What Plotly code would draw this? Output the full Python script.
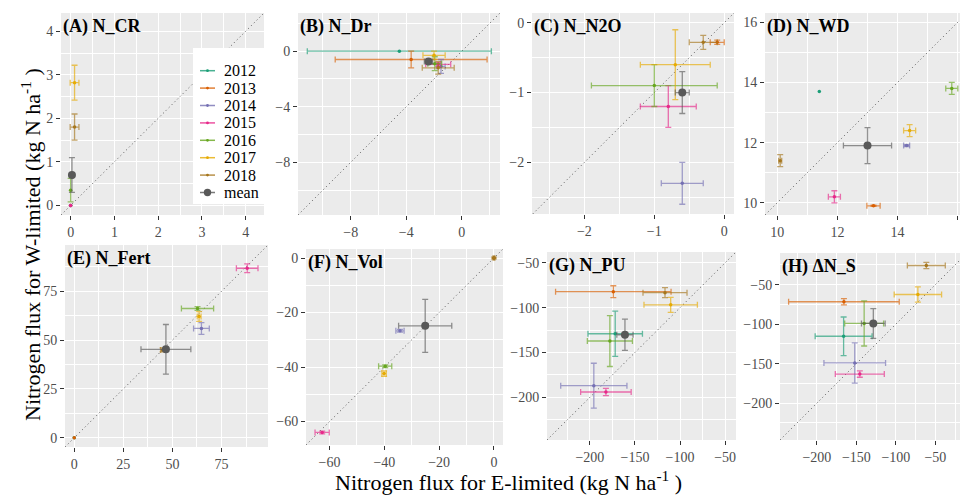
import plotly.graph_objects as go

# ---------------- data ----------------
years = ["2012", "2013", "2014", "2015", "2016", "2017", "2018", "mean"]
colors = ["#1B9E77", "#D95F02", "#7570B3", "#E7298A", "#66A61E", "#E6AB02", "#A6761D", "#595959"]

titles = ["(A) N_CR", "(B) N_Dr", "(C) N_N2O", "(D) N_WD",
          "(E) N_Fert", "(F) N_Vol", "(G) N_PU", "(H) ΔN_S"]

# order of every list: 2012, 2013, 2014, 2015, 2016, 2017, 2018, mean
cr_x = [0, 0, 0, 0, 0, 0.09, 0.09, 0.03]
cr_y = [0, 0, 0, 0, 0.35, 2.82, 1.8, 0.7]
cr_xerr = [0, 0, 0, 0, 0, 0.1, 0.1, 0.03]
cr_yerr = [0, 0, 0, 0, 0.27, 0.4, 0.3, 0.4]

dr_x = [-4.5, -3.65, -1.5, -1.7, -1.95, -2.0, -1.7, -2.4]
dr_y = [0.0, -0.6, -1.1, -0.95, -0.9, -0.3, -1.2, -0.75]
dr_xerr = [6.63, 5.47, 0.3, 0.9, 0.5, 0.8, 1.15, 0.3]
dr_yerr = [0, 0.6, 0.5, 0.15, 0.5, 0.3, 0.45, 0.15]

n2o_x = [None, -0.1, -0.6, -0.8, -1.0, -0.7, -0.3, -0.6]
n2o_y = [None, -0.28, -2.3, -1.2, -0.9, -0.6, -0.28, -1.0]
n2o_xerr = [0, 0.1, 0.3, 0.4, 0.9, 0.5, 0.2, 0.1]
n2o_yerr = [0, 0.03, 0.3, 0.3, 0.3, 0.5, 0.1, 0.3]

wd_x = [11.4, 13.2, 14.3, 11.9, 15.8, 14.4, 10.1, 13.0]
wd_y = [13.7, 9.9, 11.9, 10.2, 13.8, 12.4, 11.4, 11.9]
wd_xerr = [0, 0.22, 0.1, 0.2, 0.2, 0.2, 0.05, 0.8]
wd_yerr = [0, 0.02, 0.03, 0.2, 0.2, 0.2, 0.2, 0.6]

fert_x = [0, 0, 64.8, 88.1, 62.8, 63.6, 45, 46.7]
fert_y = [0, 0, 56, 86.8, 66.2, 62.1, 45, 45.3]
fert_xerr = [0, 0, 4, 5.5, 8.2, 1, 1, 12.7]
fert_yerr = [0, 0, 3, 2.2, 1, 2.5, 1, 12.7]

vol_x = [0, 0, -34.3, -62.7, -39.7, -40.1, 0, -25.1]
vol_y = [0, 0, -26.7, -64, -39.7, -42.4, 0, -24.9]
vol_xerr = [0, 0, 1.5, 2.6, 2.4, 0.8, 0.3, 9.7]
vol_yerr = [0, 0, 0.5, 0.5, 0.5, 1, 0.3, 9.7]

pu_x = [-171.9, -174, -195.6, -182.2, -177.8, -110.4, -116.7, -161.1]
pu_y = [-129.1, -82.2, -187, -194, -137.2, -96.9, -83.3, -130.2]
pu_xerr = [30.2, 64, 36.7, 28, 25, 29.6, 24.4, 9]
pu_yerr = [25.3, 6.6, 25, 4, 28.4, 8.4, 5.5, 17.4]

ns_x = [-166.2, -165.8, -152.1, -145.7, -140.2, -72.2, -61.5, -128.6]
ns_y = [-115.4, -71.7, -149.2, -163.3, -99.2, -62.5, -25.8, -99.2]
ns_xerr = [36, 70, 39, 31, 24.6, 30, 24, 15]
ns_yerr = [24.4, 4, 25.4, 4, 28.5, 9.6, 4, 18.75]

panels = [
    (cr_x, cr_y, cr_xerr, cr_yerr),
    (dr_x, dr_y, dr_xerr, dr_yerr),
    (n2o_x, n2o_y, n2o_xerr, n2o_yerr),
    (wd_x, wd_y, wd_xerr, wd_yerr),
    (fert_x, fert_y, fert_xerr, fert_yerr),
    (vol_x, vol_y, vol_xerr, vol_yerr),
    (pu_x, pu_y, pu_xerr, pu_yerr),
    (ns_x, ns_y, ns_xerr, ns_yerr),
]

# ---------------- layout geometry (pixels) ----------------
W, H = 960, 497
boxes = [(61, 264, 13, 215), (298, 500, 13, 215), (532, 734, 13, 214), (765, 960, 13, 215),
         (65, 268, 245, 447), (306, 503, 249, 445), (547, 736, 252, 440), (780, 960, 253, 440)]
xranges = [[-0.22, 4.42], [-11.8, 2.75], [-2.75, 0.14], [9.595, 16.073],
           [-4.7, 98.7], [-68.6, 3.3], [-247.5, -38], [-246.7, -18.9]]
yranges = [[-0.22, 4.42], [-11.8, 2.75], [-2.74, 0.14], [9.595, 16.305],
           [-4.7, 98.7], [-68.6, 3.3], [-247.5, -38], [-246.7, -10]]
dticks = [1, 4, 1, 2, 25, 20, 50, 50]

FONT = "Liberation Serif"


def rgba(hexc, a):
    h = hexc.lstrip("#")
    return "rgba(%d,%d,%d,%g)" % (int(h[0:2], 16), int(h[2:4], 16), int(h[4:6], 16), a)


def pxx(v):
    return v / W


def pxy(v):
    return 1 - v / H


fig = go.Figure()
layout = dict(
    width=W, height=H,
    margin=dict(l=0, r=0, t=0, b=0),
    paper_bgcolor="white", plot_bgcolor="#EBEBEB",
    font=dict(family=FONT, size=13, color="#4D4D4D"),
    showlegend=False,
    annotations=[], shapes=[],
)

for i, (px, py, pxe, pye) in enumerate(panels):
    sfx = "" if i == 0 else str(i + 1)
    xa, ya = "x" + sfx, "y" + sfx
    x0, x1, y0, y1 = boxes[i]
    axis_common = dict(
        showgrid=True, gridcolor="white", gridwidth=1.1, zeroline=False,
        showline=False, ticks="outside", ticklen=4, tickcolor="#333333", tickwidth=1,
        tickmode="linear", tick0=0, dtick=dticks[i],
        minor=dict(tick0=0, dtick=dticks[i] / 2, showgrid=True, gridcolor="white", gridwidth=0.5),
        tickfont=dict(family=FONT, size=14, color="#4D4D4D"),
    )
    layout["xaxis" + sfx] = dict(axis_common, domain=[pxx(x0), pxx(x1)], range=xranges[i], anchor=ya)
    layout["yaxis" + sfx] = dict(axis_common, domain=[pxy(y1), pxy(y0)], range=yranges[i], anchor=xa)

    # 1:1 reference line across the panel
    lo = max(xranges[i][0], yranges[i][0])
    hi = min(xranges[i][1], yranges[i][1])
    fig.add_trace(go.Scatter(x=[lo, hi], y=[lo, hi], mode="lines", xaxis=xa, yaxis=ya,
                             line=dict(color="#555555", width=1, dash="1px,3px"),
                             showlegend=False, hoverinfo="skip"))

    for k, yr in enumerate(years):
        if px[k] is None:
            continue
        c = colors[k]
        is_mean = yr == "mean"
        fig.add_trace(go.Scatter(
            x=[px[k]], y=[py[k]], xaxis=xa, yaxis=ya,
            mode="markers", name=yr, showlegend=False,
            marker=dict(color=c, size=8 if is_mean else 3.5),
            error_x=dict(type="data", array=[pxe[k]], visible=pxe[k] > 0,
                         color=rgba(c, 0.65), thickness=1.3, width=3),
            error_y=dict(type="data", array=[pye[k]], visible=pye[k] > 0,
                         color=rgba(c, 0.65), thickness=1.3, width=3),
        ))

    layout["annotations"].append(dict(
        text="<b>%s</b>" % titles[i], xref=xa + " domain", yref=ya + " domain",
        x=0.0, y=0.995, xanchor="left", yanchor="top", showarrow=False,
        font=dict(family=FONT, size=18, color="black")))

# ---------------- legend (drawn inside panel A) ----------------
layout["shapes"].append(dict(type="rect", xref="paper", yref="paper",
                             x0=pxx(193), x1=pxx(264), y0=pxy(204), y1=pxy(48),
                             fillcolor="white", line=dict(width=0), layer="above"))
for k, yr in enumerate(years):
    yk = 70.7 + 17.4 * k
    c = colors[k]
    r = 3.7 if yr == "mean" else 1.4
    layout["shapes"].append(dict(type="line", xref="paper", yref="paper",
                                 x0=pxx(200), x1=pxx(215), y0=pxy(yk), y1=pxy(yk),
                                 line=dict(color=rgba(c, 0.8), width=1.5), layer="above"))
    layout["shapes"].append(dict(type="circle", xref="paper", yref="paper",
                                 xsizemode="pixel", ysizemode="pixel",
                                 xanchor=pxx(207.5), yanchor=pxy(yk),
                                 x0=-r, x1=r, y0=-r, y1=r,
                                 fillcolor=c, line=dict(width=0), layer="above"))
    layout["annotations"].append(dict(
        text=yr, xref="paper", yref="paper", x=pxx(222), y=pxy(yk),
        xanchor="left", yanchor="middle", showarrow=False,
        font=dict(family=FONT, size=16, color="black")))

layout["annotations"].append(dict(
    text="Nitrogen flux for E-limited (kg N ha<sup>-1</sup> )", xref="paper", yref="paper",
    x=pxx(508), y=0, xanchor="center", yanchor="bottom", showarrow=False,
    font=dict(family=FONT, size=22, color="black")))
layout["annotations"].append(dict(
    text="Nitrogen flux for W-limited (kg N ha<sup>-1</sup> )", xref="paper", yref="paper",
    x=pxx(31), y=pxy(245), xanchor="center", yanchor="middle", showarrow=False, textangle=-90,
    font=dict(family=FONT, size=22, color="black")))

fig.update_layout(**layout)
fig.write_html("out.html", config={"displayModeBar": False},
               post_script="document.body.style.margin='0';")
